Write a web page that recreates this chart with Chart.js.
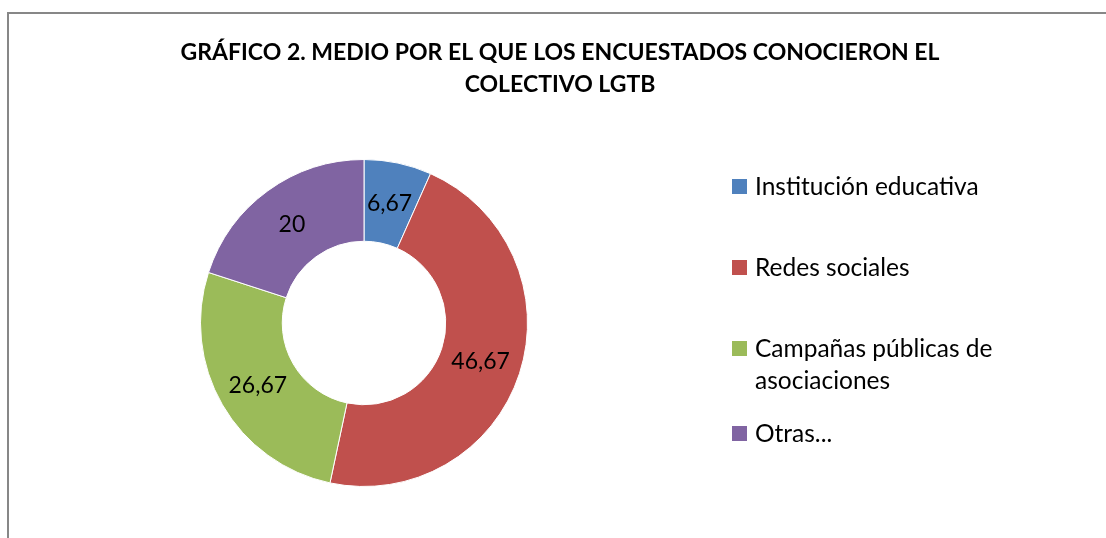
<!DOCTYPE html>
<html><head><meta charset="utf-8">
<script src="https://cdn.jsdelivr.net/npm/chart.js@4"></script>
<style>html,body{margin:0;padding:0;background:#fff;}canvas{display:block;}</style>
</head><body>
<canvas id="c" width="1106" height="538"></canvas>
<script>
const titleLines = ["GRÁFICO 2. MEDIO POR EL QUE LOS ENCUESTADOS CONOCIERON EL", "COLECTIVO LGTB"];
const categories = ["Institución educativa", "Redes sociales", "Campañas públicas de asociaciones", "Otras..."];
const values = [6.67, 46.67, 26.67, 20];
const valueLabels = ["6,67", "46,67", "26,67", "20"];
const colors = ["#4F81BD", "#C0504D", "#9BBB59", "#8064A2"];

const FONT = "Lato, 'Open Sans', sans-serif";

function wrap(ctx, text, maxW) {
  const words = text.split(' ');
  const lines = []; let cur = '';
  words.forEach(w => {
    const t = cur ? cur + ' ' + w : w;
    if (ctx.measureText(t).width > maxW && cur) { lines.push(cur); cur = w; } else cur = t;
  });
  if (cur) lines.push(cur);
  return lines;
}

const framePlugin = {
  id: 'frame',
  beforeDraw(chart) {
    const ctx = chart.ctx;
    ctx.save();
    ctx.fillStyle = '#fff';
    ctx.fillRect(0, 0, chart.width, chart.height);
    ctx.strokeStyle = '#878787';
    ctx.lineWidth = 2;
    ctx.beginPath();
    ctx.moveTo(8, chart.height + 2);
    ctx.lineTo(8, 13);
    ctx.lineTo(chart.width + 2, 13);
    ctx.stroke();
    ctx.restore();
  }
};

const textPlugin = {
  id: 'texts',
  afterDatasetsDraw(chart) {
    const ctx = chart.ctx;
    ctx.save();
    // title
    ctx.fillStyle = '#000';
    ctx.textAlign = 'center';
    ctx.textBaseline = 'middle';
    ctx.font = "bold 23px " + FONT;
    const titleY = [53, 85];
    titleLines.forEach((t, i) => ctx.fillText(t, 560, titleY[i]));
    // slice labels
    ctx.font = "23px " + FONT;
    const meta = chart.getDatasetMeta(0);
    meta.data.forEach((arc, i) => {
      const p = arc.tooltipPosition(true);
      ctx.fillText(valueLabels[i], p.x, p.y + 1);
    });
    // legend
    const legendY = [186, 267, 348, 433];
    ctx.font = "24.5px " + FONT;
    ctx.textAlign = 'left';
    categories.forEach((c, i) => {
      ctx.fillStyle = colors[i];
      ctx.fillRect(732, legendY[i] - 7, 15, 15);
      ctx.fillStyle = '#000';
      const lines = wrap(ctx, c, 330);
      lines.forEach((l, j) => ctx.fillText(l, 755, legendY[i] + 1 + j * 32));
    });
    ctx.restore();
  }
};

new Chart(document.getElementById('c'), {
  type: 'doughnut',
  data: {
    labels: categories,
    datasets: [{
      data: values,
      backgroundColor: colors,
      borderColor: '#ffffff',
      borderWidth: 1
    }]
  },
  options: {
    responsive: false,
    animation: false,
    events: [],
    cutout: '50%',
    layout: { padding: { top: 159, bottom: 51, left: 200, right: 578 } },
    plugins: { legend: { display: false }, tooltip: { enabled: false }, title: { display: false } }
  },
  plugins: [framePlugin, textPlugin]
});
</script>
</body></html>
